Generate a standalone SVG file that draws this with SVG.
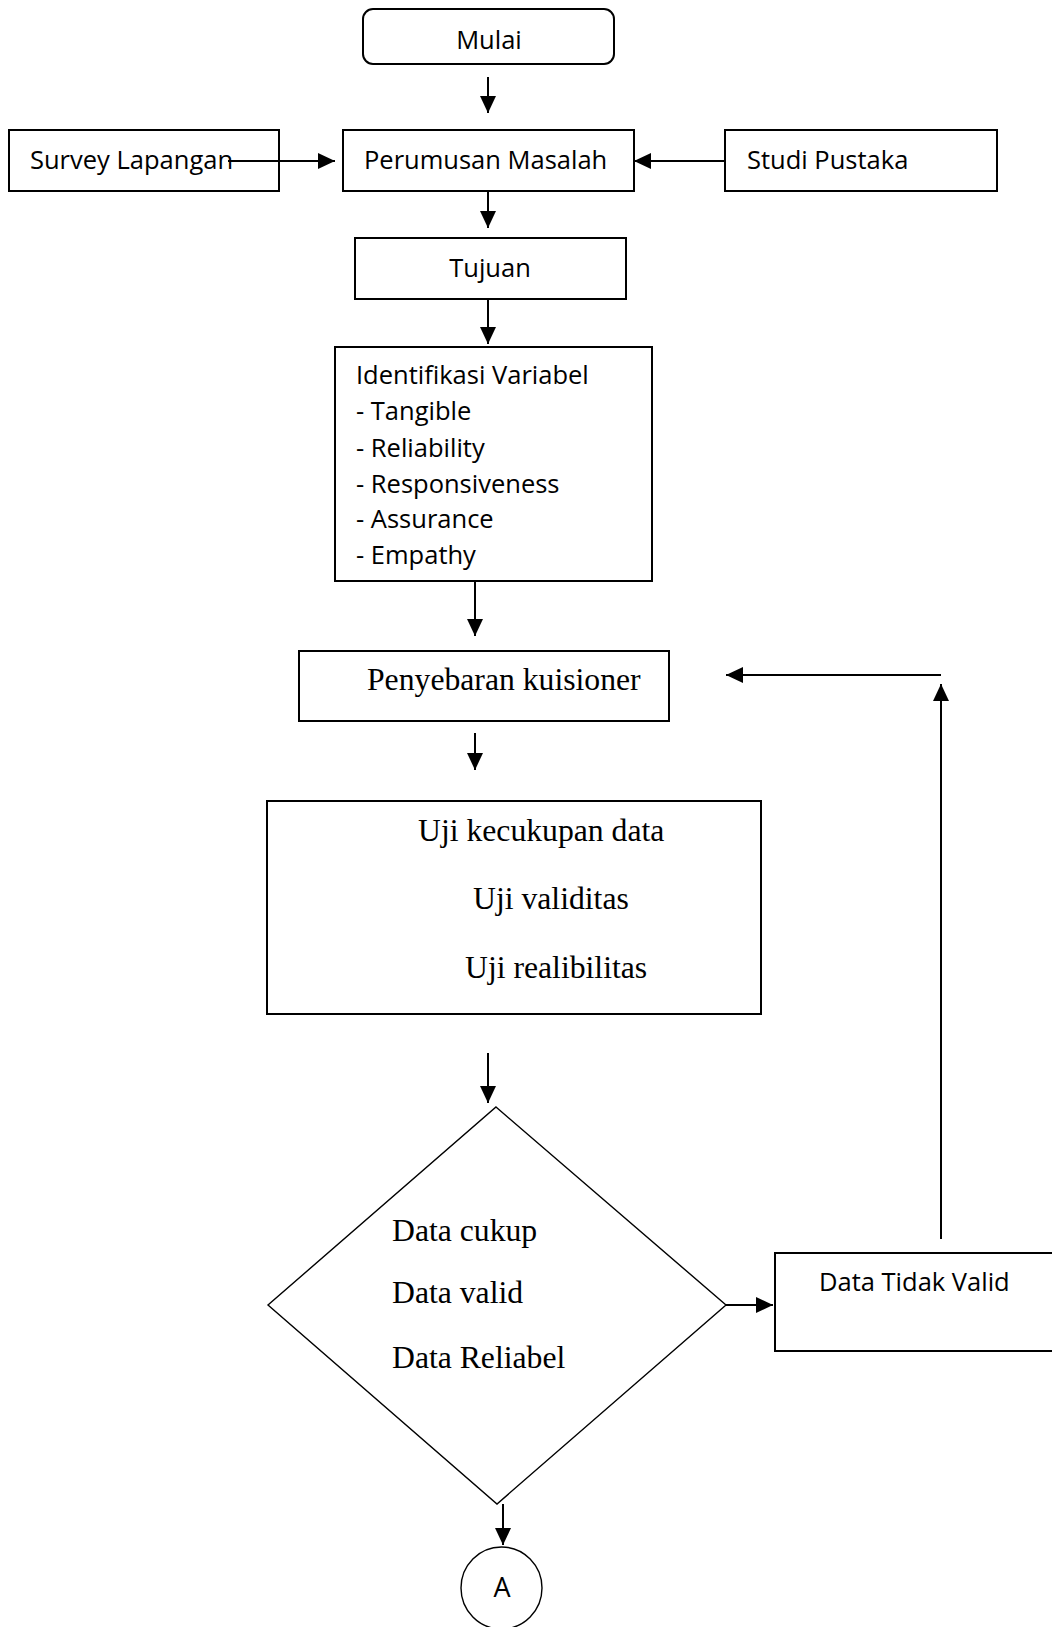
<svg xmlns="http://www.w3.org/2000/svg" width="1052" height="1627" viewBox="0 0 1052 1627">
<style>
.box{fill:#fff;stroke:#000;stroke-width:2}
.thin{fill:#fff;stroke:#000;stroke-width:1.4}
.sans{font-family:"Open Sans","Noto Sans","Liberation Sans",sans-serif;font-size:25.5px;fill:#000}
.serif{font-family:"Liberation Serif","Times New Roman",serif;font-size:31.7px;fill:#000}
.con{fill:none;stroke:#000;stroke-width:2;marker-end:url(#ah)}
</style>
<defs>
<marker id="ah" markerUnits="userSpaceOnUse" markerWidth="17" markerHeight="16" refX="17" refY="8" orient="auto">
<path d="M0,0 L17,8 L0,16 z" fill="#000"/>
</marker>
</defs>
<rect width="1052" height="1627" fill="#fff"/>

<g id="mulai">
<rect class="box" x="363" y="9" width="251" height="55" rx="10" ry="10"/>
<text class="sans" x="489" y="49" text-anchor="middle">Mulai</text>
</g>
<g id="survey">
<rect class="box" x="9" y="130" width="270" height="61"/>
<text class="sans" x="30" y="169">Survey Lapangan</text>
</g>
<g id="perumusan">
<rect class="box" x="343" y="130" width="291" height="61"/>
<text class="sans" x="364" y="169">Perumusan Masalah</text>
</g>
<g id="studi">
<rect class="box" x="725" y="130" width="272" height="61"/>
<text class="sans" x="747" y="169">Studi Pustaka</text>
</g>
<g id="tujuan">
<rect class="box" x="355" y="238" width="271" height="61"/>
<text class="sans" x="490" y="277" text-anchor="middle">Tujuan</text>
</g>
<g id="identifikasi">
<rect class="box" x="335" y="347" width="317" height="234"/>
<text class="sans" x="356" y="384">Identifikasi Variabel</text>
<text class="sans" x="356" y="420">- Tangible</text>
<text class="sans" x="356" y="457">- Reliability</text>
<text class="sans" x="356" y="493">- Responsiveness</text>
<text class="sans" x="356" y="528">- Assurance</text>
<text class="sans" x="356" y="564">- Empathy</text>
</g>
<g id="penyebaran">
<rect class="box" x="299" y="651" width="370" height="70"/>
<text class="serif" x="367" y="690">Penyebaran kuisioner</text>
</g>
<g id="uji">
<rect class="box" x="267" y="801" width="494" height="213"/>
<text class="serif" x="418" y="841">Uji kecukupan data</text>
<text class="serif" x="473" y="909">Uji validitas</text>
<text class="serif" x="465" y="978">Uji realibilitas</text>
</g>
<g id="keputusan">
<polygon class="thin" points="496,1107 726,1305 497,1504 268,1305"/>
<text class="serif" x="392" y="1241">Data cukup</text>
<text class="serif" x="392" y="1303">Data valid</text>
<text class="serif" x="392" y="1368">Data Reliabel</text>
</g>
<g id="tidakvalid">
<rect class="box" x="775" y="1253" width="290" height="98"/>
<text class="sans" x="819" y="1291">Data Tidak Valid</text>
</g>
<g id="konektor-a">
<ellipse class="thin" cx="501.5" cy="1588" rx="40.5" ry="41"/>
<text class="sans" x="502" y="1597" text-anchor="middle" style="font-size:27px">A</text>
</g>

<g id="connectors">
<line class="con" x1="488" y1="77" x2="488" y2="113"/>
<line class="con" x1="228" y1="161" x2="335" y2="161"/>
<line class="con" x1="725" y1="161" x2="634" y2="161"/>
<line class="con" x1="488" y1="191" x2="488" y2="228"/>
<line class="con" x1="488" y1="299" x2="488" y2="344"/>
<line class="con" x1="475" y1="581" x2="475" y2="636"/>
<line class="con" x1="475" y1="733" x2="475" y2="770"/>
<line class="con" x1="488" y1="1053" x2="488" y2="1103"/>
<line class="con" x1="726" y1="1305" x2="773" y2="1305"/>
<line class="con" x1="941" y1="1239" x2="941" y2="684"/>
<line class="con" x1="941" y1="675" x2="726" y2="675"/>
<line class="con" x1="503" y1="1504" x2="503" y2="1545"/>
</g>
</svg>
